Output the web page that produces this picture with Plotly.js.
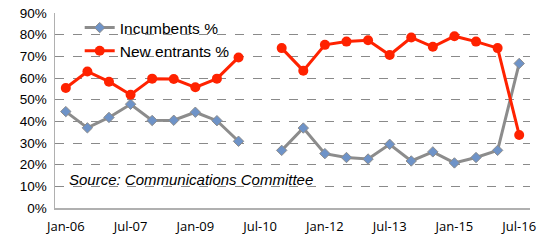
<!DOCTYPE html>
<html>
<head>
<meta charset="utf-8">
<script src="https://cdn.plot.ly/plotly-3.0.1.min.js"></script>
<style>html,body{margin:0;padding:0;background:#fff;}#chart{width:544px;height:243px;}</style>
</head>
<body>
<div id="chart"></div>
<script>
const periods = ["Jan-06","Jul-06","Jan-07","Jul-07","Jan-08","Jul-08","Jan-09","Jul-09","Jan-10","Jul-10","Jan-11","Jul-11","Jan-12","Jul-12","Jan-13","Jul-13","Jan-14","Jul-14","Jan-15","Jul-15","Jan-16","Jul-16"];
const incumbents = [0.445,0.370,0.418,0.479,0.404,0.405,0.442,0.403,0.308,null,0.266,0.369,0.251,0.233,0.226,0.294,0.217,0.259,0.208,0.233,0.266,0.667];
const newEntrants = [0.554,0.630,0.583,0.523,0.597,0.595,0.557,0.597,0.695,null,0.738,0.634,0.753,0.768,0.774,0.706,0.787,0.744,0.793,0.768,0.738,0.337];
const xTickLabels = ["Jan-06","Jul-07","Jan-09","Jul-10","Jan-12","Jul-13","Jan-15","Jul-16"];
const yTicks = [0,0.1,0.2,0.3,0.4,0.5,0.6,0.7,0.8,0.9];

const traces = [
  {x: periods, y: incumbents, name: "Incumbents %", type: "scatter", mode: "lines+markers",
   connectgaps: false,
   line: {color: "#8c8c8c", width: 3},
   marker: {symbol: "diamond", size: 8, color: "#6e93c8", line: {color: "#8c8c8c", width: 1}}},
  {x: periods, y: newEntrants, name: "New entrants %", type: "scatter", mode: "lines+markers",
   connectgaps: false,
   line: {color: "#ff2200", width: 3},
   marker: {symbol: "circle", size: 10, color: "#ff2200"}}
];

const layout = {
  width: 544, height: 243,
  margin: {l: 55, r: 14, t: 12, b: 35},
  paper_bgcolor: "#fff", plot_bgcolor: "#fff",
  font: {family: "Liberation Sans, Arial, sans-serif", color: "#000"},
  showlegend: true,
  legend: {x: 0.052, y: 1.005, xanchor: "left", yanchor: "top", bgcolor: "rgba(255,255,255,0)",
           font: {size: 15.5, family: "Liberation Sans, Arial, sans-serif"}, tracegroupgap: 0, itemwidth: 30},
  xaxis: {type: "category", categoryorder: "array", categoryarray: periods,
          range: [-0.5, 21.5], tickmode: "array", tickvals: xTickLabels, ticktext: xTickLabels,
          showgrid: false, zeroline: false, showline: true, linecolor: "#b0b0b0", linewidth: 1.5,
          ticks: "", tickfont: {size: 13, family: "Open Sans, Liberation Sans, sans-serif"}, ticklabelstandoff: 6},
  yaxis: {range: [0, 0.9], tickmode: "array", tickvals: yTicks, tickformat: ".0%",
          showgrid: true, gridcolor: "#8a8a8a", griddash: "dash", gridwidth: 1,
          zeroline: false, showline: true, linecolor: "#b0b0b0", linewidth: 1.5,
          ticks: "", tickfont: {size: 13.5}, ticklabelstandoff: 4},
  annotations: [{xref: "paper", yref: "paper", x: 0.025, y: 0.145, xanchor: "left", yanchor: "middle",
                 text: "<i>Source: Communications Committee</i>", showarrow: false,
                 font: {size: 15, family: "Liberation Sans, Arial, sans-serif", color: "#000"}}]
};

Plotly.newPlot("chart", traces, layout, {displayModeBar: false, staticPlot: true});
</script>
</body>
</html>
